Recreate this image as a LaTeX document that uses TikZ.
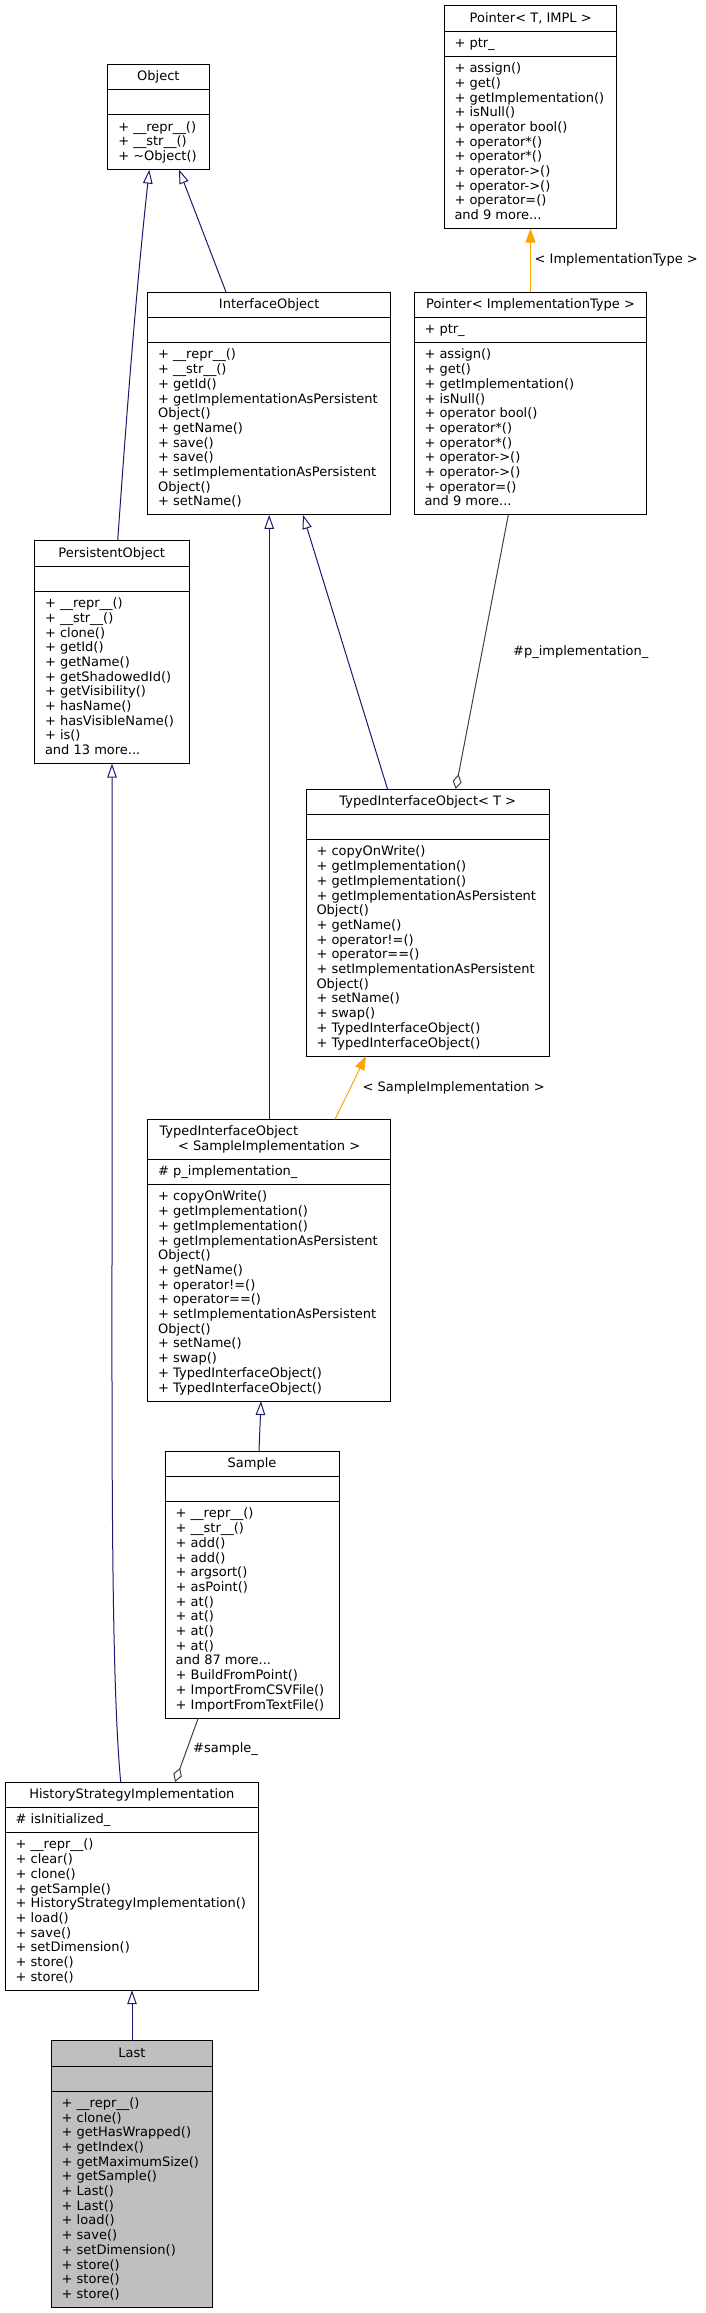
\documentclass[tikz,border=0pt]{standalone}
\usepackage{fontspec}
\setmainfont{DejaVu Sans}
\usetikzlibrary{arrows.meta}
\definecolor{dxnavy}{HTML}{191970}
\definecolor{dxorange}{HTML}{FFA500}
\definecolor{dxgray}{HTML}{404040}
\definecolor{dxfill}{HTML}{BFBFBF}
\newcommand{\umlfont}{\fontsize{13}{14.7}\selectfont}
\newcommand{\mdots}{...}
\tikzset{
  cls/.style={draw=black, line width=1pt, inner sep=0pt, outer sep=0pt, rectangle},
  clsline/.style={draw=black, line width=1pt},
  txt/.style={anchor=base west, inner sep=0pt, font=\umlfont},
  ttl/.style={anchor=base, inner sep=0pt, font=\umlfont},
  lbl/.style={anchor=base west, inner sep=0pt, font=\umlfont},
  inh/.style={draw=dxnavy, line width=1pt, -{Triangle[open, length=14pt, width=9.5pt]}},
  tmpl/.style={draw=dxorange, line width=1pt, -{Triangle[length=14pt, width=10pt, fill=dxorange]}},
  agg/.style={draw=dxgray, line width=1pt, -{Diamond[open, length=15pt, width=9pt]}}
}
% #1 name, #2 left x, #3 top y, #4 width, #5 title lines, #6 attr lines, #7 method lines, #8 fill
\newcommand{\umlbox}[8]{%
  \pgfmathsetmacro{\umlhA}{#5*14.7+10.6}%
  \pgfmathsetmacro{\umlhB}{#6*14.7+10.6}%
  \pgfmathsetmacro{\umlhC}{#7*14.7+10.6}%
  \pgfmathsetmacro{\umlhT}{\umlhA+\umlhB+\umlhC}%
  \pgfmathsetmacro{\umlhAB}{\umlhA+\umlhB}%
  \node[cls, fill=#8, minimum width=#4pt, minimum height=\umlhT pt, anchor=north west] (#1) at (#2,#3) {};
  \draw[clsline] ([yshift=-\umlhA pt]#1.north west) -- ([yshift=-\umlhA pt]#1.north east);
  \draw[clsline] ([yshift=-\umlhAB pt]#1.north west) -- ([yshift=-\umlhAB pt]#1.north east);
}
% #1 name prefix, #2 x, #3 first baseline y, #4 list
\newcommand{\umllines}[4]{%
  \foreach \mtext [count=\i from 0] in {#4} {\node[txt] (#1-\i) at (#2,{#3+14.7*\i}) {\mtext};}%
}
\begin{document}
\begin{tikzpicture}[x=1pt,y=-1pt]
\useasboundingbox (0,0) rectangle (705,2313);

% Pointer< T, IMPL >
\umlbox{pti}{444.7}{5.7}{172}{1}{1}{11}{white}
\node[ttl] (pti-t) at (pti.north |- 0,22) {Pointer< T, IMPL >};
\umllines{pti-a}{454.3}{47.3}{+ ptr\_}
\umllines{pti-m}{454.3}{72.6}{+ assign(), + get(), + getImplementation(), + isNull(), + operator bool(), + operator*(), + operator*(), + operator->(), + operator->(), + operator=(), and 9 more\mdots}

% Object
\umlbox{obj}{107.7}{64.3}{101.3}{1}{1}{3}{white}
\node[ttl] (obj-t) at (obj.north |- 0,80.6) {Object};
\umllines{obj-m}{118.1}{131.2}{+ \_\_repr\_\_(), + \_\_str\_\_(), + \textasciitilde Object()}

% InterfaceObject
\umlbox{io}{147.7}{292}{243}{1}{1}{11}{white}
\node[ttl] (io-t) at (io.north |- 0,308.3) {InterfaceObject};
\umllines{io-m}{158}{358.9}{+ \_\_repr\_\_(), + \_\_str\_\_(), + getId(), + getImplementationAsPersistent, Object(), + getName(), + save(), + save(), + setImplementationAsPersistent, Object(), + setName()}

% Pointer< ImplementationType >
\umlbox{pit}{414.3}{292}{232.4}{1}{1}{11}{white}
\node[ttl] (pit-t) at (pit.north |- 0,308.3) {Pointer< ImplementationType >};
\umllines{pit-a}{424.3}{333.6}{+ ptr\_}
\umllines{pit-m}{424.3}{358.9}{+ assign(), + get(), + getImplementation(), + isNull(), + operator bool(), + operator*(), + operator*(), + operator->(), + operator->(), + operator=(), and 9 more\mdots}

% PersistentObject
\umlbox{po}{34.5}{540.7}{154.5}{1}{1}{11}{white}
\node[ttl] (po-t) at (po.north |- 0,557) {PersistentObject};
\umllines{po-m}{44.8}{607.6}{+ \_\_repr\_\_(), + \_\_str\_\_(), + clone(), + getId(), + getName(), + getShadowedId(), + getVisibility(), + hasName(), + hasVisibleName(), + is(), and 13 more\mdots}

% TypedInterfaceObject< T >
\umlbox{tiot}{306.3}{789}{243}{1}{1}{14}{white}
\node[ttl] (tiot-t) at (tiot.north |- 0,805.3) {TypedInterfaceObject< T >};
\umllines{tiot-m}{316.3}{855.9}{+ copyOnWrite(), + getImplementation(), + getImplementation(), + getImplementationAsPersistent, Object(), + getName(), + operator!=(), + operator==(), + setImplementationAsPersistent, Object(), + setName(), + swap(), + TypedInterfaceObject(), + TypedInterfaceObject()}

% TypedInterfaceObject< SampleImplementation >
\umlbox{tiosi}{147.7}{1119.3}{243}{2}{1}{14}{white}
\node[txt] (tiosi-t1) at (159.3,1135.6) {TypedInterfaceObject};
\node[ttl] (tiosi-t2) at (tiosi.north |- 0,1150.3) {< SampleImplementation >};
\umllines{tiosi-a}{158}{1175.6}{\# p\_implementation\_}
\umllines{tiosi-m}{158}{1200.9}{+ copyOnWrite(), + getImplementation(), + getImplementation(), + getImplementationAsPersistent, Object(), + getName(), + operator!=(), + operator==(), + setImplementationAsPersistent, Object(), + setName(), + swap(), + TypedInterfaceObject(), + TypedInterfaceObject()}

% Sample
\umlbox{smp}{165}{1451}{174}{1}{1}{14}{white}
\node[ttl] (smp-t) at (smp.north |- 0,1467.3) {Sample};
\umllines{smp-m}{175.5}{1517.9}{+ \_\_repr\_\_(), + \_\_str\_\_(), + add(), + add(), + argsort(), + asPoint(), + at(), + at(), + at(), + at(), and 87 more\mdots, + BuildFromPoint(), + ImportFromCSVFile(), + ImportFromTextFile()}

% HistoryStrategyImplementation
\umlbox{hsi}{5}{1782}{253.7}{1}{1}{10}{white}
\node[ttl] (hsi-t) at (hsi.north |- 0,1798.3) {HistoryStrategyImplementation};
\umllines{hsi-a}{15.5}{1823.6}{\# isInitialized\_}
\umllines{hsi-m}{15.5}{1848.9}{+ \_\_repr\_\_(), + clear(), + clone(), + getSample(), + HistoryStrategyImplementation(), + load(), + save(), + setDimension(), + store(), + store()}

% Last
\umlbox{last}{51}{2040.7}{161.7}{1}{1}{14}{dxfill}
\node[ttl] (last-t) at (last.north |- 0,2057) {Last};
\umllines{last-m}{61.5}{2107.3}{+ \_\_repr\_\_(), + clone(), + getHasWrapped(), + getIndex(), + getMaximumSize(), + getSample(), + Last(), + Last(), + load(), + save(), + setDimension(), + store(), + store(), + store()}

% connectors
\draw[tmpl] (530.5,0 |- pit.north) -- (530.5,0 |- pti.south);
\node[lbl] (lbl-it) at (534.5,263.8) {< ImplementationType >};

\draw[inh] (117.7,0 |- po.north) .. controls (126.1,420.7) and (136.1,289.7) .. (149.3,0 |- obj.south);
\draw[inh] (226,0 |- io.north) -- (179,0 |- obj.south);

\draw[inh] (387.5,0 |- tiot.north) -- (303,0 |- io.south);
\draw[inh] (269.2,0 |- tiosi.north) -- (269.2,0 |- io.south);

\draw[agg] (508.3,0 |- pit.south) -- (455.7,0 |- tiot.north);
\node[lbl] (lbl-pimpl) at (513,655.2) {\#p\_implementation\_};

\draw[tmpl] (335,0 |- tiosi.north) -- (366,0 |- tiot.south);
\node[lbl] (lbl-si) at (362.5,1091.2) {< SampleImplementation >};

\draw[inh] (259,0 |- smp.north) -- (261,0 |- tiosi.south);

\draw[agg] (198.3,0 |- smp.south) -- (175,0 |- hsi.north);
\node[lbl] (lbl-smp) at (193,1752.8) {\#sample\_};

\draw[inh] (120.7,0 |- hsi.north) .. controls (111.2,1682) and (112,1450) .. (112,1250) -- (112,0 |- po.south);

\draw[inh] (132,0 |- last.north) -- (132,0 |- hsi.south);
\end{tikzpicture}
\end{document}
